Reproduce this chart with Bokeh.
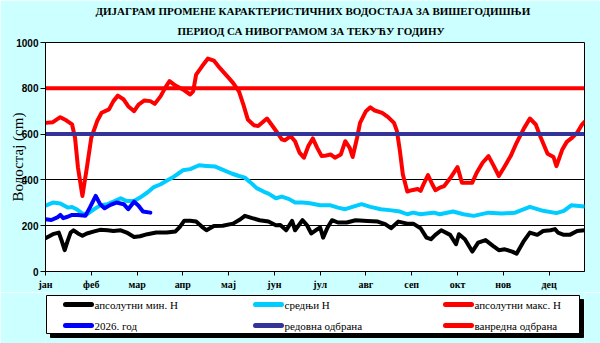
from bokeh.plotting import figure
from bokeh.models import Range1d, FixedTicker, Title
from bokeh.core.properties import value
from bokeh.layouts import column
from bokeh.embed import file_html
from bokeh.resources import INLINE

# ---------------- data ----------------
months = ["јан", "феб", "мар", "апр", "мај", "јун", "јул", "авг", "сеп", "окт", "нов", "дец"]
y_ticks = [0, 200, 400, 600, 800, 1000]

min_days = [0, 5, 9, 11, 13, 15, 17, 19, 22, 25, 28, 33, 37, 42, 46, 51, 55, 60, 64, 69,
            75, 82, 88, 91, 94, 98, 102, 106, 109, 114, 120, 127, 132, 135, 140, 145, 151, 156, 159, 163,
            167, 169, 174, 177, 180, 183, 186, 188, 191, 194, 198, 204, 210, 218, 225, 230, 234, 239, 245, 249,
            254, 258, 261, 264, 268, 274, 278, 280, 284, 289, 293, 298, 303, 307, 311, 316, 319, 324, 328, 333,
            337, 342, 345, 347, 351, 355, 360, 365]
min_vals = [145, 163, 170, 134, 93, 134, 170, 180, 166, 156, 166, 175, 182, 180, 177, 180, 170, 151, 154, 163,
            170, 170, 175, 195, 222, 222, 218, 195, 180, 199, 200, 209, 228, 243, 233, 224, 218, 202, 203, 180,
            221, 180, 224, 203, 166, 180, 192, 148, 192, 224, 214, 214, 224, 221, 218, 207, 189, 218, 209, 209,
            189, 148, 141, 160, 180, 160, 119, 163, 141, 87, 126, 137, 112, 93, 97, 87, 78, 134, 170, 160,
            177, 180, 185, 170, 160, 160, 177, 180]

mean_days = [0, 5, 10, 15, 18, 21, 25, 28, 33, 37, 42, 46, 51, 55, 60, 64, 69, 73, 78, 82,
             86, 90, 93, 98, 104, 109, 115, 121, 126, 131, 135, 139, 143, 148, 151, 156, 160, 165, 169, 174,
             179, 186, 193, 198, 203, 209, 214, 220, 227, 233, 240, 245, 249, 254, 258, 263, 267, 276, 283, 290,
             300, 309, 318, 328, 337, 346, 351, 356, 365]
mean_vals = [287, 301, 297, 279, 282, 272, 253, 250, 272, 289, 294, 305, 320, 308, 308, 323, 345, 367, 381, 396,
             410, 428, 442, 447, 464, 461, 458, 442, 428, 417, 410, 388, 364, 348, 340, 320, 327, 316, 301, 301,
             298, 289, 289, 279, 272, 284, 294, 282, 272, 268, 262, 250, 257, 250, 253, 257, 250, 262, 250, 243,
             257, 253, 257, 282, 265, 255, 265, 289, 284]

max_days = [0, 5, 10, 14, 18, 20, 22, 25, 28, 31, 35, 38, 43, 46, 49, 53, 56, 60, 63, 67,
            71, 74, 78, 81, 84, 88, 93, 98, 100, 102, 106, 110, 114, 118, 123, 127, 131, 134, 137, 141,
            144, 148, 150, 153, 157, 160, 162, 166, 169, 172, 175, 178, 181, 184, 187, 189, 193, 196, 200, 203,
            206, 208, 211, 213, 217, 220, 223, 228, 232, 236, 238, 240, 242, 245, 248, 252, 254, 256, 259, 262,
            264, 267, 270, 274, 279, 282, 289, 292, 296, 300, 303, 307, 311, 315, 319, 324, 328, 332, 335, 340,
            344, 346, 350, 353, 356, 360, 363, 365]
max_vals = [649, 652, 674, 660, 642, 584, 453, 330, 453, 584, 657, 693, 708, 744, 768, 751, 722, 700, 729, 747,
            744, 732, 766, 802, 831, 812, 795, 773, 787, 860, 896, 930, 921, 889, 853, 824, 787, 729, 664, 639,
            635, 657, 668, 642, 606, 577, 573, 591, 569, 519, 497, 548, 581, 540, 504, 505, 511, 497, 511, 569,
            540, 500, 584, 649, 700, 717, 703, 693, 674, 649, 613, 526, 424, 349, 355, 360, 352, 381, 421, 380,
            355, 366, 373, 407, 456, 388, 388, 431, 475, 504, 468, 417, 460, 504, 562, 625, 668, 642, 591, 514,
            500, 460, 533, 566, 581, 606, 639, 653]

cur_days = [0, 4, 8, 10, 12, 15, 18, 22, 27, 30, 34, 37, 40, 44, 48, 53, 56, 60, 63, 66, 71]
cur_vals = [228, 225, 236, 247, 233, 239, 247, 247, 243, 279, 330, 294, 276, 291, 301, 294, 272, 305, 287, 262, 257]

redovna = 600
vanredna = 800
year_days = 365

labels = ["апсолутни мин. Н", "средњи Н", "апсолутни макс. Н",
          "2026. год", "редовна одбрана", "ванредна одбрана"]
title1 = "ДИЈАГРАМ ПРОМЕНЕ КАРАКТЕРИСТИЧНИХ ВОДОСТАЈА ЗА ВИШЕГОДИШЊИ"
title2 = "ПЕРИОД СА НИВОГРАМОМ ЗА ТЕКУЋУ ГОДИНУ"
ylabel = "Водостај (cm)"

# ---------------- styles ----------------
BG = "#ccffff"
C_MIN, C_MEAN, C_MAX, C_CUR, C_RED, C_VAN = "black", "#00ccff", "#ff0000", "#0000ff", "#333399", "#ff0000"
LW = 4
SERIF = "Liberation Serif"
BORDER_L, BORDER_R = 45, 16
W = 600

# ---------------- main chart ----------------
p = figure(width=W, height=292, output_backend="svg", toolbar_location=None,
           x_range=Range1d(0, year_days), y_range=Range1d(0, 1000),
           min_border_left=BORDER_L, min_border_right=BORDER_R, min_border_top=42, min_border_bottom=21)
p.border_fill_color = BG
p.background_fill_color = "white"
p.outline_line_color = "black"
p.outline_line_width = 1
p.outline_line_alpha = 1

p.xgrid.visible = False
p.ygrid.ticker = FixedTicker(ticks=y_ticks)
p.ygrid.grid_line_color = "black"
p.ygrid.grid_line_width = 1
p.ygrid.grid_line_alpha = 1

tick_days = [31 * i for i in range(len(months))]
xa = p.xaxis[0]
xa.ticker = FixedTicker(ticks=tick_days)
xa.major_label_overrides = {d: m for d, m in zip(tick_days, months)}
xa.major_tick_out = 4
xa.major_tick_in = 0
xa.minor_tick_out = 0
xa.minor_tick_in = 0
xa.axis_line_color = "black"
xa.major_tick_line_color = "black"
xa.major_label_text_font = SERIF
xa.major_label_text_font_style = "bold"
xa.major_label_text_font_size = "10px"
xa.major_label_text_color = "black"
xa.major_label_standoff = 3

ya = p.yaxis[0]
ya.ticker = FixedTicker(ticks=y_ticks)
ya.major_tick_out = 5
ya.major_tick_in = 0
ya.minor_tick_out = 0
ya.minor_tick_in = 0
ya.axis_line_color = "black"
ya.major_tick_line_color = "black"
ya.major_label_text_font = "Liberation Sans"
ya.major_label_text_font_style = "bold"
ya.major_label_text_font_size = "10px"
ya.major_label_text_color = "black"
ya.major_label_standoff = 2
ya.axis_label = ylabel
ya.axis_label_text_font = SERIF
ya.axis_label_text_font_style = "normal"
ya.axis_label_text_font_size = "15px"
ya.axis_label_text_color = "black"
ya.axis_label_standoff = -13

p.line(min_days, min_vals, line_color=C_MIN, line_width=LW, line_join="round", line_cap="round")
p.line(mean_days, mean_vals, line_color=C_MEAN, line_width=LW, line_join="round", line_cap="round")
p.line(max_days, max_vals, line_color=C_MAX, line_width=LW, line_join="round", line_cap="round")
p.line(cur_days, cur_vals, line_color=C_CUR, line_width=LW, line_join="round", line_cap="round")
p.line([0, year_days], [redovna, redovna], line_color=C_RED, line_width=LW)
p.line([0, year_days], [vanredna, vanredna], line_color=C_VAN, line_width=LW)

# titles: the added Title sits nearest the frame, p.title above it
p.title.text = title1
p.title.align = "left"
p.title.offset = 50
p.title.standoff = 0
p.title.text_font = SERIF
p.title.text_font_style = "bold"
p.title.text_font_size = "11px"
p.title.text_color = "black"
p.add_layout(Title(text=title2, align="left", offset=132, standoff=12,
                   text_font=SERIF, text_font_style="bold",
                   text_font_size="11px", text_color="black"), "above")

# ---------------- legend strip (frame aligned with the chart; data x = page px) ----------------
q = figure(width=W, height=51, output_backend="svg", toolbar_location=None,
           x_range=Range1d(BORDER_L, W - BORDER_R), y_range=Range1d(51, 0),
           x_axis_type=None, y_axis_type=None,
           min_border_left=BORDER_L, min_border_right=BORDER_R, min_border_top=0, min_border_bottom=0)
q.border_fill_color = BG
q.background_fill_color = BG
q.outline_line_color = None
q.grid.visible = False

box_l, box_r, box_t, box_b, sh = 46, 579, 3, 41, 4
q.quad(left=box_l + sh, right=box_r + sh, top=box_t + sh, bottom=box_b + sh,
       fill_color="black", line_color="black")
q.quad(left=box_l, right=box_r, top=box_t, bottom=box_b,
       fill_color="white", line_color="black", line_width=1)

key_colors = [C_MIN, C_MEAN, C_MAX, C_CUR, C_RED, C_VAN]
col_x = [65 + 190 * (i % 3) for i in range(len(labels))]
row_y = [12 + 21 * (i // 3) for i in range(len(labels))]
q.segment(x0=col_x, y0=row_y, x1=[x + 26 for x in col_x], y1=row_y,
          line_color=key_colors, line_width=5, line_cap="round")
q.text(x=[x + 29 for x in col_x], y=row_y, text=labels,
       text_font=value(SERIF), text_font_size=value("11px"),
       text_color="black", text_align="left", text_baseline="middle")

layout = column(p, q, spacing=0)
open("out.html", "w").write(file_html(layout, INLINE))
